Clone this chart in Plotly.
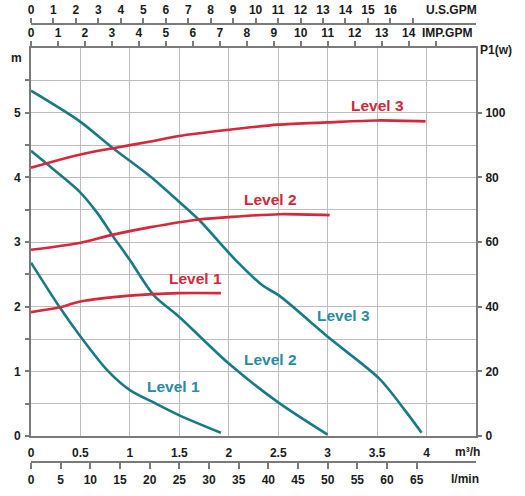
import plotly.graph_objects as go

# ---- data (flow in m3/h, head in m, power in W) ----
l1_head_q = [0, 0.29, 0.5, 0.77, 1.0, 1.25, 1.5, 1.92]
l1_head_h = [2.68, 1.99, 1.54, 1.02, 0.71, 0.51, 0.32, 0.05]
l2_head_q = [0, 0.15, 0.49, 0.67, 0.82, 1.0, 1.24, 1.5, 2.0, 2.5, 3.0]
l2_head_h = [4.41, 4.22, 3.78, 3.45, 3.11, 2.72, 2.18, 1.84, 1.12, 0.52, 0.02]
l3_head_q = [0, 0.49, 0.83, 1.21, 1.5, 1.7, 2.07, 2.34, 2.51, 3.02, 3.52, 3.78, 3.95]
l3_head_h = [5.34, 4.87, 4.45, 4.01, 3.62, 3.34, 2.72, 2.33, 2.17, 1.51, 0.89, 0.40, 0.05]

l1_pow_q = [0, 0.29, 0.5, 1.0, 1.49, 1.92]
l1_pow_w = [38.3, 39.8, 41.6, 43.4, 44.2, 44.2]
l2_pow_q = [0, 0.49, 0.82, 1.21, 1.68, 2.0, 2.51, 3.02]
l2_pow_w = [57.6, 59.7, 62.2, 64.6, 66.9, 67.7, 68.6, 68.3]
l3_pow_q = [0, 0.49, 0.83, 1.21, 1.5, 2.0, 2.5, 3.0, 3.5, 3.99]
l3_pow_w = [83.0, 87.0, 89.0, 91.1, 92.8, 94.7, 96.3, 97.0, 97.6, 97.3]

m3h_ticks = [0, 0.5, 1, 1.5, 2, 2.5, 3, 3.5, 4]
lmin_ticks = list(range(0, 70, 5))
usgpm_ticks = list(range(0, 18))
usgpm_labels = [str(v) for v in range(0, 17)] + [""]
impgpm_ticks = list(range(0, 16))
impgpm_labels = [str(v) for v in range(0, 15)] + [""]
head_ticks = [0, 0.5, 1, 1.5, 2, 2.5, 3, 3.5, 4, 4.5, 5, 5.5]
head_labels = ["0", "", "1", "", "2", "", "3", "", "4", "", "5", ""]
pow_ticks = [0, 20, 40, 60, 80, 100]

Q_MAX = 4.5
H_MAX = 6.0
P_MAX = 120.0

TEAL = "#1a7a84"
RED = "#d8263a"
TEAL_TXT = "#2a8ba3"
RED_TXT = "#d0283c"
GRID = "#bdbdbd"
AXIS = "#7a7a7a"
FONT = dict(family="Liberation Sans, Arial, sans-serif", size=12, color="#1a1a1a", weight="bold")

W, H = 525, 496
def px(x):
    return x / W
def py(y):
    return 1 - y / H

xdom = [px(31), px(476)]
ydom = [py(436), py(48)]

fig = go.Figure()

for q, h in [(l1_head_q, l1_head_h), (l2_head_q, l2_head_h), (l3_head_q, l3_head_h)]:
    fig.add_trace(go.Scatter(x=q, y=h, mode="lines", line=dict(color=TEAL, width=2.6, shape="spline", smoothing=0.8),
                             xaxis="x", yaxis="y", showlegend=False, hoverinfo="skip"))
for q, p in [(l1_pow_q, l1_pow_w), (l2_pow_q, l2_pow_w), (l3_pow_q, l3_pow_w)]:
    fig.add_trace(go.Scatter(x=q, y=p, mode="lines", line=dict(color=RED, width=2.6, shape="spline", smoothing=0.8),
                             xaxis="x", yaxis="y2", showlegend=False, hoverinfo="skip"))
# invisible traces to attach the extra flow axes
for xa in ["x2", "x3", "x4"]:
    fig.add_trace(go.Scatter(x=[0], y=[0], mode="markers", marker=dict(opacity=0), xaxis=xa, yaxis="y",
                             showlegend=False, hoverinfo="skip"))

common_x = dict(showline=True, linecolor=AXIS, linewidth=2, tickfont=FONT, zeroline=False, fixedrange=True)

fig.update_layout(
    width=W, height=H,
    margin=dict(l=0, r=0, t=0, b=0),
    paper_bgcolor="white", plot_bgcolor="white",
    xaxis=dict(domain=xdom, range=[0, Q_MAX], anchor="y", side="bottom",
               tickvals=m3h_ticks, ticktext=[str(v) for v in m3h_ticks],
               showgrid=True, gridcolor=GRID, gridwidth=1.3,
               ticks="", ticklabelstandoff=5, automargin=False, **common_x),
    xaxis2=dict(overlaying="x", range=[0, Q_MAX * 1000 / 60], anchor="free", position=py(462), side="bottom",
                tickvals=lmin_ticks, ticks="outside", ticklen=6, tickwidth=1.5, tickcolor=AXIS,
                showgrid=False, automargin=False, ticklabelstandoff=1, **common_x),
    xaxis3=dict(overlaying="x", range=[0, Q_MAX / 0.2271247], anchor="free", position=py(24), side="top",
                tickvals=usgpm_ticks, ticktext=usgpm_labels, ticks="outside", ticklen=5, tickwidth=1.5, tickcolor=AXIS,
                showgrid=False, automargin=False, ticklabelstandoff=-1, **common_x),
    xaxis4=dict(overlaying="x", range=[0, Q_MAX / 0.272765], anchor="y", side="top",
                tickvals=impgpm_ticks, ticktext=impgpm_labels, ticks="outside", ticklen=5, tickwidth=1.5, tickcolor=AXIS,
                showgrid=False, automargin=False, ticklabelstandoff=-1, **common_x),
    yaxis=dict(domain=ydom, range=[0, H_MAX], anchor="x", side="left",
               tickvals=head_ticks, ticktext=head_labels, ticks="outside", ticklen=4, tickwidth=1.5, tickcolor=AXIS,
               showgrid=True, gridcolor=GRID, gridwidth=1.3, showline=True, linecolor=AXIS, linewidth=2,
               tickfont=FONT, zeroline=False, automargin=False, fixedrange=True, ticklabelstandoff=2),
    yaxis2=dict(overlaying="y", range=[0, P_MAX], anchor="x", side="right",
                tickvals=pow_ticks, ticks="outside", ticklen=4, tickwidth=1.5, tickcolor=AXIS,
                showgrid=False, showline=True, linecolor=AXIS, linewidth=2,
                tickfont=FONT, zeroline=False, automargin=False, fixedrange=True, ticklabelstandoff=1),
)

def paper_text(text, x, y, xanchor="center"):
    fig.add_annotation(text=text, x=px(x), y=py(y), xref="paper", yref="paper", showarrow=False,
                       xanchor=xanchor, yanchor="middle", font=FONT)

paper_text("m", 16, 58)
paper_text("P1(w)", 478, 50, xanchor="left")
paper_text("U.S.GPM", 451, 10)
paper_text("IMP.GPM", 447, 33)
paper_text("m³/h", 467, 452)
paper_text("l/min", 465, 479)

LBL = dict(family="Liberation Sans, Arial, sans-serif", size=15.5, weight="bold")
for text, x, y, c in [("Level 3", 3.5, 5.11, RED_TXT), ("Level 2", 2.42, 3.65, RED_TXT), ("Level 1", 1.66, 2.43, RED_TXT),
                      ("Level 1", 1.44, 0.77, TEAL_TXT), ("Level 2", 2.42, 1.19, TEAL_TXT), ("Level 3", 3.16, 1.87, TEAL_TXT)]:
    fig.add_annotation(text=text, x=x, y=y, xref="x", yref="y", showarrow=False,
                       font=dict(color=c, **LBL))

fig.write_html("out.html", config={"displayModeBar": False}, post_script="document.body.style.margin='0';")
